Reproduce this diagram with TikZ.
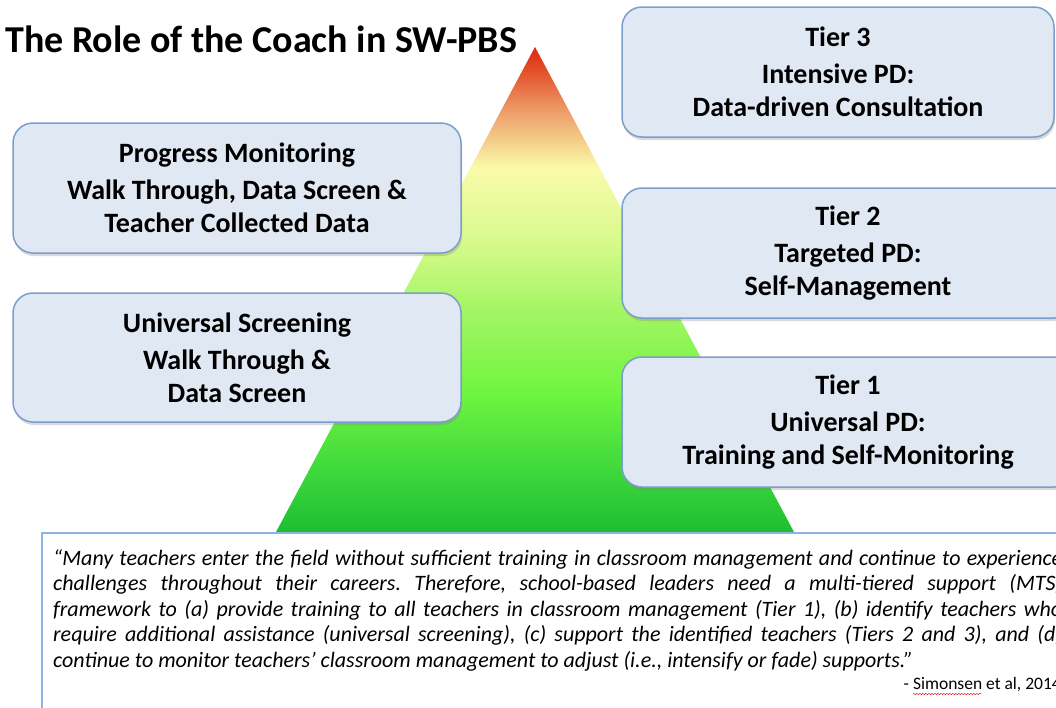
\documentclass[tikz,border=0pt]{standalone}
\usepackage{fontspec}
\setmainfont{Carlito}
\usetikzlibrary{shadows,decorations.pathmorphing}

\definecolor{boxfill}{RGB}{224,232,243}
\definecolor{boxline}{RGB}{124,158,204}
\definecolor{quoteline}{RGB}{142,180,227}
\definecolor{pyrA}{RGB}{30,190,50}
\definecolor{pyrB}{RGB}{60,215,60}
\definecolor{pyrC}{RGB}{112,245,65}
\definecolor{pyrD}{RGB}{165,245,100}
\definecolor{pyrE}{RGB}{215,250,140}
\definecolor{pyrF}{RGB}{250,250,170}
\definecolor{pyrG}{RGB}{236,150,100}
\definecolor{pyrH}{RGB}{228,90,50}
\definecolor{pyrI}{RGB}{222,40,12}

% green at the base, red at the tip
\pgfdeclareverticalshading{pyramidshade}{100bp}{color(0bp)=(pyrA); color(25bp)=(pyrA);
  color(31bp)=(pyrB); color(39.5bp)=(pyrC); color(48bp)=(pyrD); color(55bp)=(pyrE);
  color(62.6bp)=(pyrF); color(68.8bp)=(pyrG); color(72bp)=(pyrH); color(75bp)=(pyrI);
  color(100bp)=(pyrI)}

\begin{document}
\begin{tikzpicture}[x=1pt,y=-1pt,
    tierbox/.style={draw=boxline, line width=1.5pt, fill=boxfill, rounded corners=20pt,
      drop shadow={shadow xshift=1pt, shadow yshift=-3pt, opacity=0.3},
      align=center, inner sep=0pt, font=\fontsize{28}{33}\selectfont\bfseries}]
    \useasboundingbox (0,0) rectangle (1056,707);
    \clip (0,0) rectangle (1056,707);
    % pyramide
    \shade[shading=pyramidshade] (535,47) -- (794,532) -- (276,532) -- cycle;
    % title
    \node[anchor=base west, inner sep=0pt, font=\fontsize{38}{45}\selectfont\bfseries] (title) at (5,52) {The Role of the Coach in SW-PBS};
    % left side
    \node[tierbox, minimum width=448pt, minimum height=130pt] (progress) at (237,188)
        {Progress Monitoring\\[4pt] Walk Through, Data Screen \&\\ Teacher Collected Data};
    \node[tierbox, minimum width=448pt, minimum height=129pt] (screening) at (237,357.5)
        {Universal Screening\\[4pt] Walk Through \&\\ Data Screen};
    % tiers
    \node[tierbox, minimum width=432pt, minimum height=130pt] (tier3) at (838,72)
        {Tier 3\\[4pt] Intensive PD:\\ Data-driven Consultation};
    \node[tierbox, minimum width=452pt, minimum height=130pt] (tier2) at (848,253)
        {Tier 2\\[4pt] Targeted PD:\\ Self-Management};
    \node[tierbox, minimum width=452pt, minimum height=130pt] (tier1) at (848,422)
        {Tier 1\\[4pt] Universal PD:\\ Training and Self-Monitoring};
    % quote
    \draw[quoteline, line width=1.5pt, fill=white] (42,533) rectangle (1090,740);
    \node[anchor=north west, text width=1009pt, align=justify, inner sep=0pt,
        font=\fontsize{22}{25.5}\selectfont\itshape] (quote) at (53,549)
        {\frenchspacing\tolerance=10000 \hyphenpenalty=10000
        “Many teachers enter the field without sufficient training in classroom management and continue to experience\linebreak
        challenges throughout their careers. Therefore, school-based leaders need a multi-tiered support (MTS)\linebreak
        framework to (a) provide training to all teachers in classroom management (Tier 1), (b) identify teachers who\linebreak
        require additional assistance (universal screening), (c) support the identified teachers (Tiers 2 and 3), and (d)\linebreak
        continue to monitor teachers’ classroom management to adjust (i.e., intensify or fade) supports.”};
    \node[anchor=base east, inner sep=0pt, font=\fontsize{17.5}{21}\selectfont] (cite) at (1061,689) {- Simonsen et al, 2014};
    \draw[red, decorate, decoration={snake, amplitude=0.7pt, segment length=3pt}] (913,694) -- (982,694);
\end{tikzpicture}
\end{document}
